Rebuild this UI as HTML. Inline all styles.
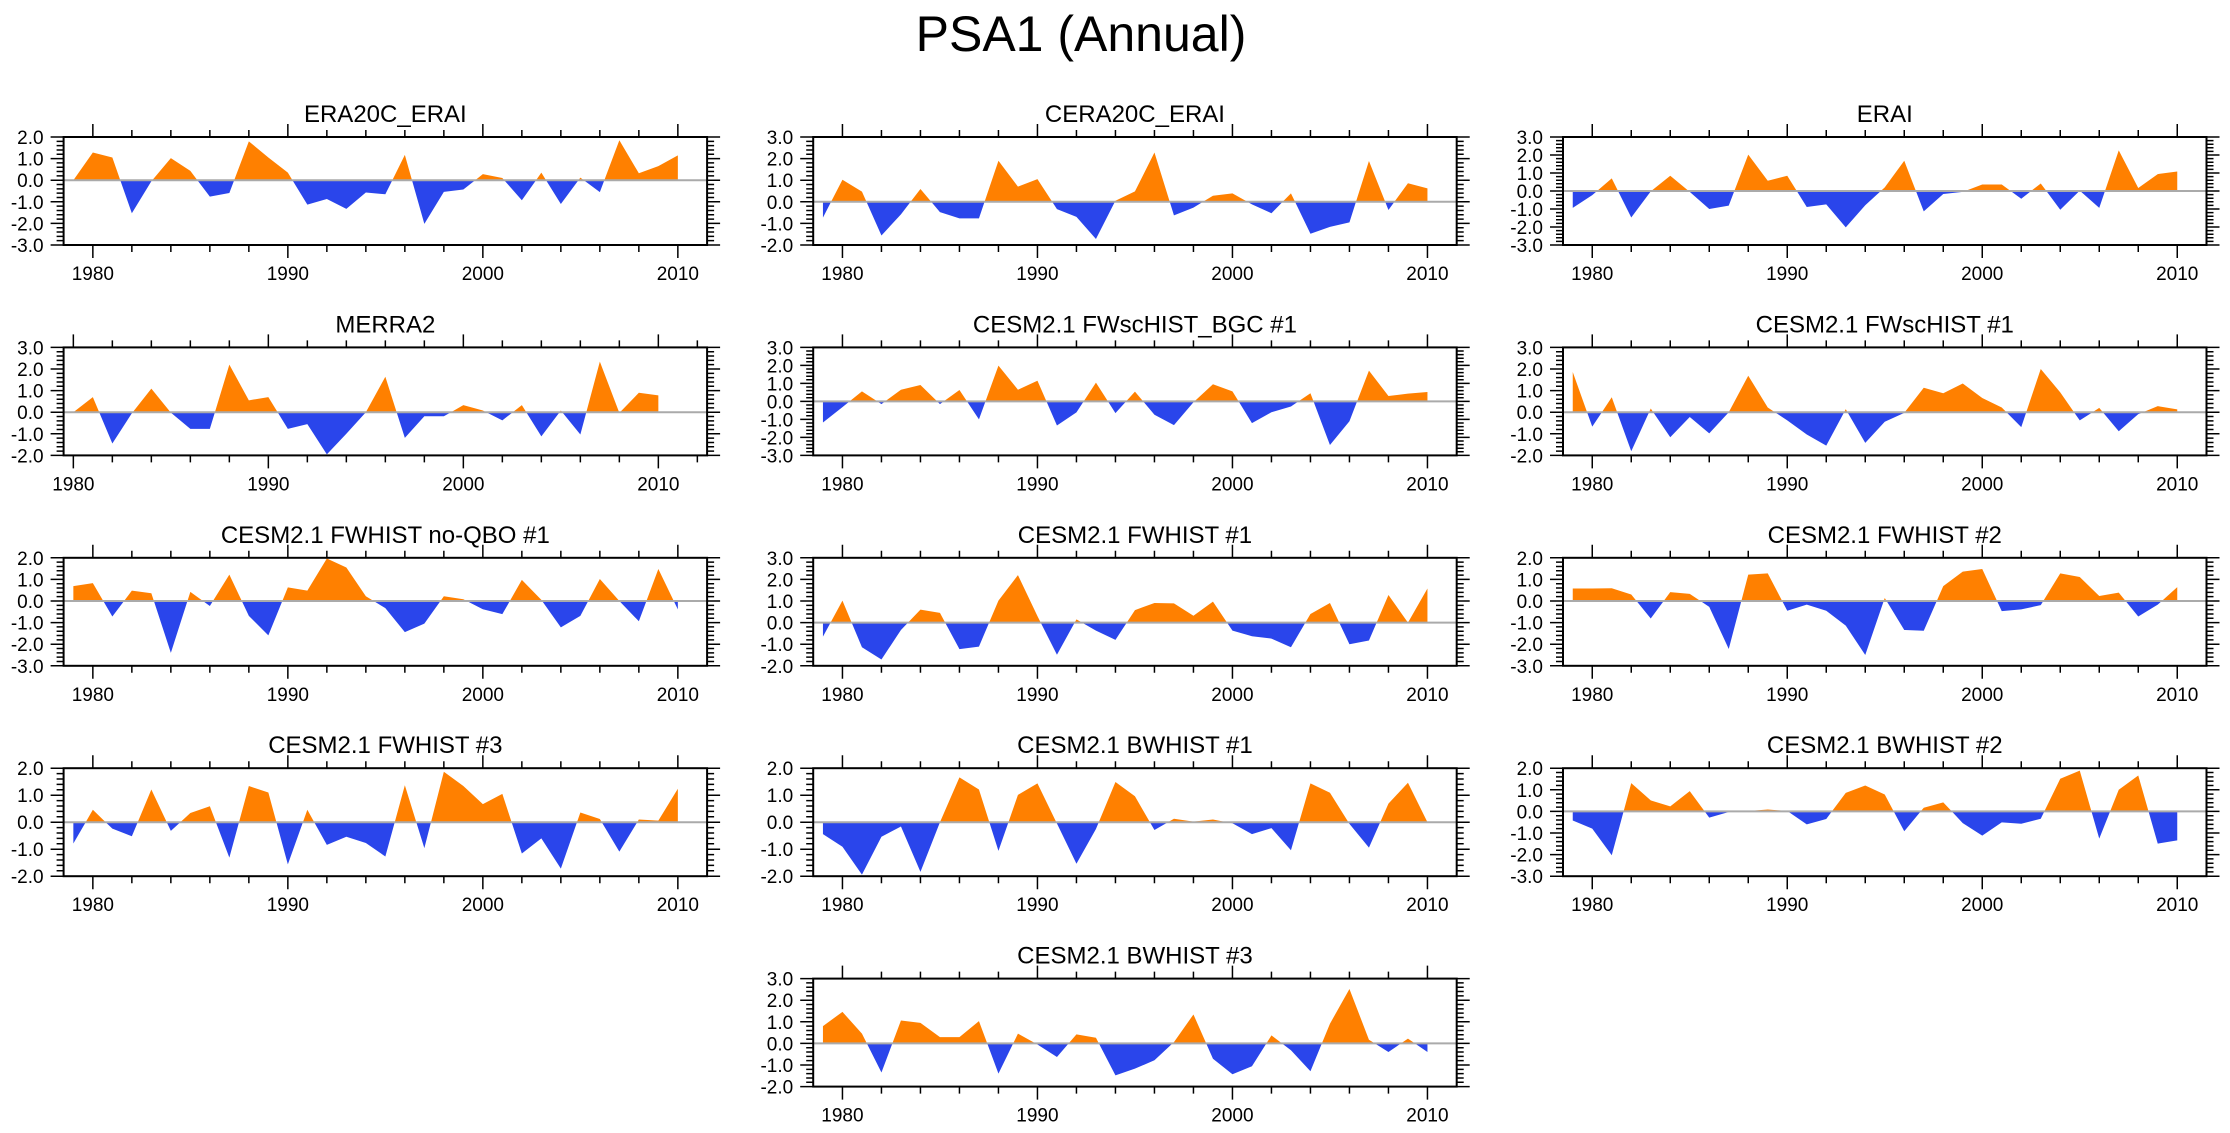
<!DOCTYPE html>
<html><head><meta charset="utf-8"><style>
html,body{margin:0;padding:0;background:#fff;}
svg{display:block;font-family:"Liberation Sans",sans-serif;}
</style></head><body>
<svg id="chart" xmlns="http://www.w3.org/2000/svg" width="2230" height="1133" viewBox="0 0 2230 1133">
<rect x="0" y="0" width="2230" height="1133" fill="#fff"/>
<text x="1081" y="51" font-size="50" text-anchor="middle" fill="#000">PSA1 (Annual)</text>
<g id="panels"></g>
</svg>
<script>
const panelTitles = ["ERA20C_ERAI","CERA20C_ERAI","ERAI","MERRA2","CESM2.1 FWscHIST_BGC #1","CESM2.1 FWscHIST #1","CESM2.1 FWHIST no-QBO #1","CESM2.1 FWHIST #1","CESM2.1 FWHIST #2","CESM2.1 FWHIST #3","CESM2.1 BWHIST #1","CESM2.1 BWHIST #2","CESM2.1 BWHIST #3"];
const startYears = [1979,1979,1979,1980,1979,1979,1979,1979,1979,1979,1979,1979,1979];
const yMins = [-3,-2,-3,-2,-3,-2,-3,-2,-3,-2,-2,-3,-2];
const yMaxs = [2,3,3,3,3,3,2,3,2,2,2,2,3];
const xTickLabels = ["1980","1990","2000","2010"];
const era20c = [0.0,1.28,1.05,-1.53,-0.05,1.02,0.43,-0.76,-0.59,1.8,1.05,0.35,-1.13,-0.87,-1.33,-0.57,-0.65,1.17,-2.02,-0.54,-0.43,0.28,0.1,-0.93,0.35,-1.1,0.12,-0.55,1.85,0.32,0.65,1.15];
const cera20c = [-0.73,1.02,0.47,-1.56,-0.58,0.59,-0.48,-0.77,-0.77,1.9,0.7,1.05,-0.34,-0.7,-1.72,0.05,0.48,2.28,-0.63,-0.27,0.28,0.39,-0.12,-0.53,0.39,-1.48,-1.16,-0.95,1.89,-0.38,0.86,0.62];
const erai = [-0.94,-0.23,0.7,-1.47,-0.02,0.85,-0.05,-1.0,-0.81,2.02,0.57,0.85,-0.89,-0.74,-2.02,-0.79,0.2,1.68,-1.13,-0.17,-0.05,0.36,0.36,-0.43,0.42,-1.04,0.02,-0.94,2.26,0.17,0.94,1.08];
const merra2 = [0.0,0.7,-1.45,-0.05,1.09,-0.02,-0.77,-0.77,2.2,0.55,0.7,-0.77,-0.55,-1.95,-1.0,0.0,1.64,-1.19,-0.19,-0.19,0.33,0.08,-0.38,0.33,-1.12,0.08,-1.03,2.34,-0.03,0.9,0.78];
const fwschistBgc1 = [-1.17,-0.32,0.56,-0.15,0.65,0.91,-0.15,0.63,-1.0,1.99,0.65,1.15,-1.34,-0.61,1.04,-0.65,0.54,-0.74,-1.32,-0.05,0.95,0.56,-1.21,-0.6,-0.28,0.45,-2.42,-1.1,1.71,0.3,0.43,0.52];
const fwschist1 = [1.86,-0.67,0.69,-1.81,0.17,-1.16,-0.22,-0.98,0.0,1.69,0.22,-0.38,-1.03,-1.55,0.14,-1.42,-0.44,-0.03,1.13,0.88,1.33,0.66,0.22,-0.69,2.0,0.92,-0.38,0.2,-0.88,-0.09,0.28,0.13];
const fwhistNoQbo1 = [0.69,0.83,-0.72,0.48,0.36,-2.4,0.42,-0.23,1.22,-0.69,-1.59,0.63,0.48,1.97,1.55,0.22,-0.33,-1.44,-1.05,0.22,0.08,-0.38,-0.61,0.98,0.05,-1.22,-0.69,1.02,0.0,-0.94,1.48,-0.39];
const fwhist1 = [-0.65,1.02,-1.14,-1.71,-0.34,0.6,0.45,-1.23,-1.11,1.02,2.2,0.3,-1.49,0.15,-0.37,-0.8,0.58,0.91,0.89,0.32,0.97,-0.37,-0.63,-0.74,-1.14,0.4,0.91,-1.0,-0.83,1.28,0.0,1.58];
const fwhist2 = [0.58,0.58,0.59,0.3,-0.81,0.41,0.33,-0.27,-2.22,1.22,1.28,-0.45,-0.17,-0.45,-1.14,-2.5,0.14,-1.34,-1.38,0.69,1.36,1.48,-0.47,-0.39,-0.19,1.28,1.11,0.23,0.39,-0.72,-0.17,0.64];
const fwhist3 = [-0.79,0.46,-0.24,-0.52,1.21,-0.32,0.34,0.59,-1.31,1.34,1.1,-1.56,0.46,-0.84,-0.54,-0.77,-1.27,1.37,-0.96,1.87,1.34,0.67,1.05,-1.16,-0.6,-1.72,0.36,0.12,-1.09,0.1,0.06,1.24];
const bwhist1 = [-0.44,-0.91,-1.94,-0.54,-0.16,-1.84,0.0,1.66,1.21,-1.06,1.01,1.44,-0.05,-1.54,-0.25,1.49,0.96,-0.29,0.13,0.02,0.1,-0.04,-0.44,-0.22,-1.04,1.44,1.09,-0.06,-0.94,0.69,1.46,0.0];
const bwhist2 = [-0.42,-0.8,-2.03,1.31,0.51,0.23,0.94,-0.29,-0.03,0.02,0.09,0.02,-0.6,-0.35,0.86,1.2,0.78,-0.92,0.17,0.42,-0.54,-1.12,-0.51,-0.57,-0.34,1.51,1.89,-1.26,1.0,1.66,-1.49,-1.34];
const bwhist3 = [0.8,1.46,0.45,-1.35,1.06,0.95,0.29,0.29,1.03,-1.4,0.45,-0.05,-0.63,0.42,0.26,-1.48,-1.17,-0.78,0.06,1.34,-0.71,-1.43,-1.06,0.37,-0.32,-1.29,0.91,2.52,0.17,-0.4,0.22,-0.4];
const allSeries = [era20c,cera20c,erai,merra2,fwschistBgc1,fwschist1,fwhistNoQbo1,fwhist1,fwhist2,fwhist3,bwhist1,bwhist2,bwhist3];

const NS = "http://www.w3.org/2000/svg";
const colLeft = [63.6, 813.2, 1563];
const rowTop0 = 137, rowStep = 210.4, boxW = 643.5, boxH = 108;
const panelPos = [[0,0],[1,0],[2,0],[0,1],[1,1],[2,1],[0,2],[1,2],[2,2],[0,3],[1,3],[2,3],[1,4]];
const root = document.getElementById("panels");
function mk(tag, attrs, parent){ const e=document.createElementNS(NS,tag); for(const k in attrs) e.setAttribute(k,attrs[k]); parent.appendChild(e); return e; }

panelTitles.forEach((title, p) => {
  const L = colLeft[panelPos[p][0]], T = rowTop0 + panelPos[p][1]*rowStep;
  const R = L + boxW, B = T + boxH;
  const x0 = startYears[p] - 0.5, x1 = startYears[p] + 32.5;
  const ymin = yMins[p], ymax = yMaxs[p];
  const xs = v => L + (v - x0) / (x1 - x0) * boxW;
  const ys = v => B - (v - ymin) / (ymax - ymin) * boxH;
  const g = mk("g", {}, root);
  
  
  const t = mk("text", {x:(L+R)/2, y:T-15, "font-size":24, "text-anchor":"middle", fill:"#000"}, g);
  
  
  t.textContent = title;
  // fills
  const data = allSeries[p];
  const pts = data.map((v,i)=>[startYears[p]+i, v]);
  const full = [];
  for (let i=0;i<pts.length;i++){
    if (i>0){ const a=pts[i-1], b=pts[i]; if ((a[1]>0&&b[1]<0)||(a[1]<0&&b[1]>0)){ const f=a[1]/(a[1]-b[1]); full.push([a[0]+f*(b[0]-a[0]),0]); } }
    full.push(pts[i]);
  }
  const y0 = ys(0);
  const fx = full[0][0], lx = full[full.length-1][0];
  let dPos = `M${xs(fx)},${y0}`, dNeg = `M${xs(fx)},${y0}`;
  full.forEach(q => { dPos += `L${xs(q[0])},${ys(Math.max(q[1],0))}`; dNeg += `L${xs(q[0])},${ys(Math.min(q[1],0))}`; });
  dPos += `L${xs(lx)},${y0}Z`; dNeg += `L${xs(lx)},${y0}Z`;
  const pa = mk("path", {d:dPos, fill:"#ff8000"}, g);
  
  
  const na = mk("path", {d:dNeg, fill:"#2a45eb"}, g);
  
  
  const zl = mk("line", {x1:L, x2:R, y1:y0, y2:y0, stroke:"#aaa", "stroke-width":2}, g);
  
  
  // box
  const bx = mk("rect", {x:L, y:T, width:boxW, height:boxH, fill:"none", stroke:"#000", "stroke-width":2}, g);
  
  
  // y ticks
  let yt = "";
  for (let k=Math.round(ymin*5); k<=Math.round(ymax*5); k++){
    const v=k/5, yy=ys(v), major=(k%5===0), len= major?13:7;
    yt += `M${L},${yy}h${-len}M${R},${yy}h${len}`;
    if (major){
      const lb = mk("text", {x:L-20, y:yy+7, "font-size":19, "text-anchor":"end", fill:"#000"}, g);
      
      
      lb.textContent = v.toFixed(1);
    }
  }
  const yp = mk("path", {d:yt, stroke:"#000", "stroke-width":1.5, fill:"none"}, g);
  
  
  // x ticks
  let xt = "";
  for (let yr=1978; yr<=2012; yr+=2){
    if (yr < x0 || yr > x1) continue;
    const xx = xs(yr), major = (yr%10===0), len = major?13:7;
    xt += `M${xx},${B}v${len}M${xx},${T}v${-len}`;
  }
  const xp = mk("path", {d:xt, stroke:"#000", "stroke-width":1.5, fill:"none"}, g);
  
  
  xTickLabels.forEach(s => {
    const lb = mk("text", {x:xs(+s), y:B+35, "font-size":19, "text-anchor":"middle", fill:"#000"}, g);
    
    
    lb.textContent = s;
  });
});
</script>
</body></html>
